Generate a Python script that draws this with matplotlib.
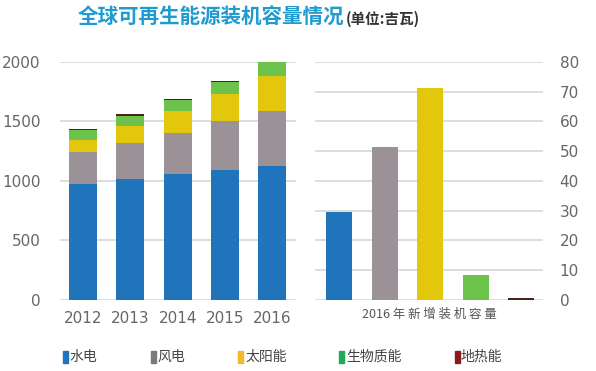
import numpy as np
import matplotlib
matplotlib.use("Agg")
from matplotlib import pyplot as plt
from matplotlib.patches import Rectangle

plt.rcParams['font.family'] = ['Noto Sans CJK SC', 'DejaVu Sans']

# data (GW)
years = ['2012', '2013', '2014', '2015', '2016']
hydro = [973, 1015, 1055, 1094, 1122]
wind = [270, 301, 348, 412, 463]
solar = [103, 143, 182, 225, 294]
bio = [79, 88, 93, 98, 121]
geo = [12, 12, 13, 13, 13]

new_names = ['水电', '风电', '太阳能', '生物质能', '地热能']
new_2016 = [29.6, 51.4, 71.1, 8.5, 0.7]

bar_colors = ['#1f74bb', '#9a9296', '#e2c70c', '#6cc24a', '#4a2418']
legend_colors = ['#1f74bb', '#7a7a7a', '#f0ba2a', '#22a85a', '#8b1a1a']
tick_color = '#666666'
grid_color = '#dddddd'

fig = plt.figure(figsize=(5.96, 3.71), dpi=100)

# left: stacked totals
ax1 = fig.add_axes([0.1007, 0.1914, 0.396, 0.6415])
x = np.arange(len(years))
bottom = np.zeros(len(years))
for vals, c in zip([hydro, wind, solar, bio, geo], bar_colors):
    ax1.bar(x, vals, width=0.59, bottom=bottom, color=c, zorder=2)
    bottom += np.array(vals)
ax1.set_ylim(0, 2000)
ax1.set_xlim(-0.486, 4.5)
ax1.set_yticks([0, 500, 1000, 1500, 2000])
ax1.set_xticks(x)
ax1.set_xticklabels(years, family='DejaVu Sans')
ax1.yaxis.grid(True, color=grid_color, linewidth=1.4, zorder=0)
ax1.tick_params(length=0, labelsize=11, colors=tick_color)
ax1.tick_params(axis='y', pad=14)
ax1.tick_params(axis='x', pad=8)
for lab in ax1.get_yticklabels():
    lab.set_family('DejaVu Sans')
for s in ax1.spines.values():
    s.set_visible(False)

# right: 2016 additions
ax2 = fig.add_axes([0.5285, 0.1914, 0.3826, 0.6415])
x2 = np.arange(len(new_2016))
ax2.bar(x2, new_2016, width=0.57, color=bar_colors, zorder=2)
ax2.set_ylim(0, 80)
ax2.set_xlim(-0.53, 4.48)
ax2.set_yticks(range(0, 81, 10))
ax2.set_xticks([])
ax2.yaxis.tick_right()
ax2.yaxis.grid(True, color=grid_color, linewidth=1.4, zorder=0)
ax2.tick_params(length=0, labelsize=11, colors=tick_color, pad=12)
for lab in ax2.get_yticklabels():
    lab.set_family('DejaVu Sans')
ax2.set_xlabel('2016 年 新 增 装 机 容 量', fontsize=9, color='#555555', labelpad=6)
for s in ax2.spines.values():
    s.set_visible(False)

# title
fig.text(0.131, 0.953, '全球可再生能源装机容量情况', fontsize=14.8, fontweight='bold',
         color='#1f9bd0', ha='left', va='center')
fig.text(0.580, 0.950, '(单位:吉瓦)', fontsize=10.5, fontweight='bold',
         color='#333333', ha='left', va='center')

# legend
leg_sq = [63, 151, 238, 339, 455]
leg_tx = [69, 157, 245, 346, 461]
for sx, tx, name, c in zip(leg_sq, leg_tx, new_names, legend_colors):
    fig.patches.append(Rectangle((sx / 596, 1 - 363 / 371), 5 / 596, 12 / 371,
                                 transform=fig.transFigure, color=c))
    fig.text(tx / 596, 1 - 357 / 371, name, fontsize=10, color='#444444',
             ha='left', va='center')

fig.savefig('out.png', dpi=100)
